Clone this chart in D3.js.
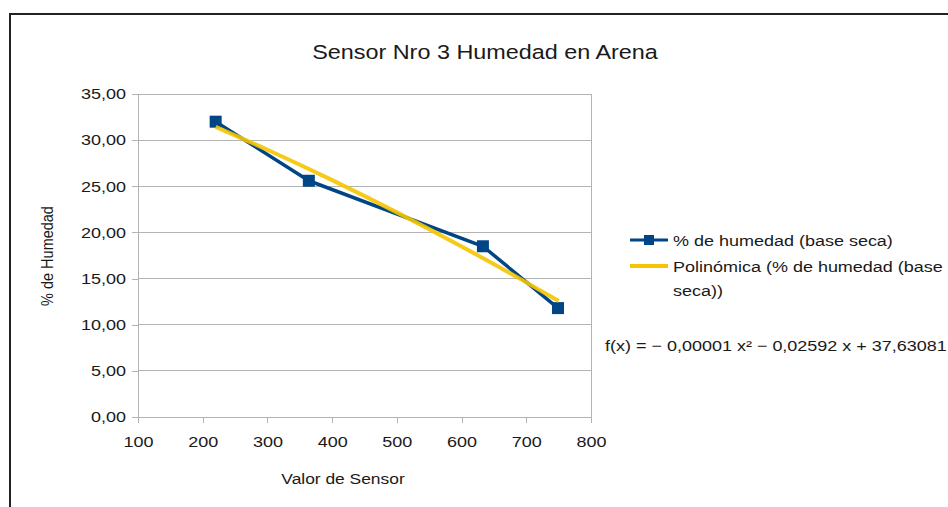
<!DOCTYPE html>
<html>
<head>
<meta charset="utf-8">
<style>
body { margin: 0; background: #fff; }
svg text { font-family: "Liberation Sans", Arial, sans-serif; fill: #1a1a1a; }
.axis path, .axis line { fill: none; stroke: #b3b3b3; shape-rendering: crispEdges; }
.axis text { font-size: 15px; }
</style>
</head>
<body>
<script src="https://cdn.jsdelivr.net/npm/d3@7"></script>
<script>
// datos
const sensorValues = [220, 364, 633, 749];
const humedad = [32.0, 25.6, 18.5, 11.8];
const xTicks = [100, 200, 300, 400, 500, 600, 700, 800];
const yTicks = [0, 5, 10, 15, 20, 25, 30, 35];
// coeficientes de la linea de tendencia (c0, c1, c2)
const trendCoef = [37.63081, -0.02592, -0.00001];
const trendX = [220, 300, 400, 500, 600, 700, 750];

const W = 948, H = 507;
const sx = 1.2; // el texto del original se ve estirado a lo ancho

const svg = d3.select("body").append("svg")
    .attr("width", W)
    .attr("height", H);

// marco exterior
svg.append("rect")
    .attr("x", 10).attr("y", 14)
    .attr("width", W).attr("height", H)
    .attr("fill", "#fff")
    .attr("stroke", "#222")
    .attr("stroke-width", 2);

const x = d3.scaleLinear().domain([100, 800]).range([138, 591]);
const y = d3.scaleLinear().domain([0, 35]).range([417, 94]);

// lineas de cuadricula
svg.append("g").selectAll("line").data(yTicks).enter()
    .append("line")
    .attr("x1", x(100)).attr("x2", x(800))
    .attr("y1", d => y(d)).attr("y2", d => y(d))
    .attr("stroke", "#b3b3b3")
    .attr("shape-rendering", "crispEdges");

svg.append("line")
    .attr("x1", x(800)).attr("x2", x(800))
    .attr("y1", y(35)).attr("y2", y(0))
    .attr("stroke", "#b3b3b3")
    .attr("shape-rendering", "crispEdges");

const fmt = d => d3.format(".2f")(d).replace(".", ",");

svg.append("g")
    .attr("class", "axis")
    .attr("transform", `translate(0,${y(0)})`)
    .call(d3.axisBottom(x).tickValues(xTicks).tickSize(6).tickSizeOuter(0).tickPadding(13))
    .selectAll("text").attr("transform", `scale(${sx},1)`);

svg.append("g")
    .attr("class", "axis")
    .attr("transform", `translate(${x(100)},0)`)
    .call(d3.axisLeft(y).tickValues(yTicks).tickFormat(fmt).tickSize(6).tickSizeOuter(0).tickPadding(4))
    .selectAll("text").attr("transform", `scale(${sx},1)`);

svg.selectAll(".axis text").attr("fill", "#1a1a1a");

function label(px, py, size, txt, anchor) {
    return svg.append("text")
        .attr("transform", `translate(${px},${py}) scale(${sx},1)`)
        .attr("text-anchor", anchor || "start")
        .attr("font-size", size + "px")
        .text(txt);
}

// titulos
label(485, 59, 19.5, "Sensor Nro 3 Humedad en Arena", "middle");
label(343, 484, 14.5, "Valor de Sensor", "middle");

svg.append("text")
    .attr("transform", `translate(53,256) rotate(-90) scale(1,${sx})`)
    .attr("text-anchor", "middle")
    .attr("font-size", "14.5px")
    .text("% de Humedad");

// serie de datos
const pts = sensorValues.map((v, i) => ({x: v, y: humedad[i]}));
const line = d3.line().x(d => x(d.x)).y(d => y(d.y));

svg.append("path")
    .datum(pts)
    .attr("fill", "none")
    .attr("stroke", "#004586")
    .attr("stroke-width", 3.5)
    .attr("stroke-linejoin", "round")
    .attr("d", line);

svg.selectAll(".mark").data(pts).enter()
    .append("rect")
    .attr("class", "mark")
    .attr("x", d => x(d.x) - 6)
    .attr("y", d => y(d.y) - 6)
    .attr("width", 12).attr("height", 12)
    .attr("fill", "#004586");

// linea de tendencia polinomica
const trend = trendX.map(v => ({x: v, y: trendCoef[0] + trendCoef[1] * v + trendCoef[2] * v * v}));
svg.append("path")
    .datum(trend)
    .attr("fill", "none")
    .attr("stroke", "#f5c400")
    .attr("stroke-width", 4)
    .attr("opacity", 0.9)
    .attr("d", d3.line().curve(d3.curveMonotoneX).x(d => x(d.x)).y(d => y(d.y)));

// leyenda
svg.append("line")
    .attr("x1", 630).attr("x2", 668).attr("y1", 240).attr("y2", 240)
    .attr("stroke", "#004586").attr("stroke-width", 3);
svg.append("rect")
    .attr("x", 644).attr("y", 235).attr("width", 10).attr("height", 10)
    .attr("fill", "#004586");
label(673, 246, 15, "% de humedad (base seca)");

svg.append("line")
    .attr("x1", 630).attr("x2", 668).attr("y1", 266).attr("y2", 266)
    .attr("stroke", "#f5c400").attr("stroke-width", 4);
label(673, 272, 15, "Polinómica (% de humedad (base");
label(673, 296, 15, "seca))");

label(605, 351, 15, "f(x) = − 0,00001 x² − 0,02592 x + 37,63081");
</script>
</body>
</html>
